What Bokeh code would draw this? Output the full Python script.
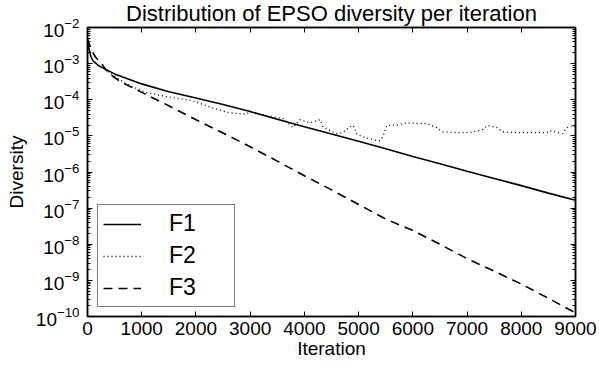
from bokeh.plotting import figure
from bokeh.models import (LinearAxis, LogAxis, FixedTicker, Legend, LegendItem, Range1d,
                          CustomLabelingPolicy, CustomJSTickFormatter)
from bokeh.embed import file_html
from bokeh.resources import INLINE

# ---- data ----
title_text = "Distribution of EPSO diversity per iteration"
x_ticks = [0, 1000, 2000, 3000, 4000, 5000, 6000, 7000, 8000, 9000]
y_ticks = [1e-10, 1e-9, 1e-8, 1e-7, 1e-6, 1e-5, 1e-4, 1e-3, 1e-2]

f1_iter = [0, 30, 60, 100, 200, 300, 500, 700, 1000, 1500, 2000, 2500, 3000,
           3500, 4000, 4500, 5000, 5500, 6000, 6500, 7000, 7500, 8000, 8500, 9000]
f1_div = [4.5e-3, 2.5e-3, 1.6e-3, 1.2e-3, 8.9e-4, 7.4e-4, 5.2e-4, 4.0e-4, 2.75e-4,
          1.66e-4, 1.12e-4, 7.4e-5, 4.7e-5, 2.9e-5, 1.78e-5, 1.12e-5, 7.1e-6,
          4.4e-6, 2.7e-6, 1.7e-6, 1.05e-6, 6.6e-7, 4.2e-7, 2.6e-7, 1.66e-7]

f2_iter = [0, 30, 60, 100, 200, 300, 480, 700, 1070, 1560, 1930, 2300, 2600, 2900,
           3000, 3310, 3610, 3790, 3920, 4100, 4290, 4340, 4470, 4600, 4710, 4840,
           4900, 4970, 5150, 5340, 5390, 5450, 5520, 5710, 5900, 6070, 6260, 6440,
           6550, 6810, 7050, 7290, 7380, 7550, 7660, 7910, 8150, 8470, 8520, 8760,
           8850, 8950, 9000]
f2_div = [4.5e-3, 2.5e-3, 1.6e-3, 1.2e-3, 8.9e-4, 7.2e-4, 4.7e-4, 2.8e-4, 1.6e-4,
          1.15e-4, 9.5e-5, 6.0e-5, 4.4e-5, 4.0e-5, 4.5e-5, 3.6e-5, 3.0e-5, 1.7e-5,
          2.8e-5, 2.3e-5, 2.8e-5, 1.8e-5, 1.4e-5, 1.15e-5, 1.23e-5, 1.8e-5, 1.95e-5,
          1.1e-5, 8.7e-6, 7.4e-6, 7.4e-6, 9.5e-6, 1.95e-5, 2.0e-5, 2.3e-5, 2.2e-5,
          2.2e-5, 1.7e-5, 1.3e-5, 1.23e-5, 1.23e-5, 1.5e-5, 1.95e-5, 1.7e-5, 1.3e-5,
          1.23e-5, 1.23e-5, 1.23e-5, 1.4e-5, 1.15e-5, 1.7e-5, 1.95e-5, 1.8e-5]

f3_iter = [0, 40, 100, 150, 260, 390, 600, 1000, 1500, 2000, 2500, 3000, 3500,
           4000, 4500, 5000, 5500, 6000, 6500, 7000, 7500, 8000, 8500, 9000]
f3_div = [5.0e-3, 3.2e-3, 2.0e-3, 1.5e-3, 1.0e-3, 5.4e-4, 3.2e-4, 1.6e-4, 6.8e-5,
          2.8e-5, 1.2e-5, 5.0e-6, 2.0e-6, 7.9e-7, 3.2e-7, 1.26e-7, 5.0e-8, 2.4e-8,
          1.0e-8, 4.0e-9, 1.8e-9, 7.9e-10, 3.2e-10, 1.26e-10]

labels = ["F1", "F2", "F3"]

FONT = "Liberation Sans"
X0, X1 = x_ticks[0], x_ticks[-1]

y_minor = [k * t for t in y_ticks[:-1] for k in range(2, 10)]

p = figure(width=599, height=366, y_axis_type="log",
           x_range=Range1d(X0, X1), y_range=Range1d(y_ticks[0], y_ticks[-1]),
           output_backend="svg", toolbar_location=None, title=title_text)
p.min_border_left = 87
p.min_border_right = 24
p.min_border_top = 27
p.min_border_bottom = 50

p.title.text_font = FONT
p.title.text_font_size = "22px"
p.title.text_font_style = "normal"
p.title.text_color = "black"
p.title.align = "center"
p.title.vertical_align = "top"
p.title.offset = 0
p.title.standoff = 0

p.xgrid.visible = False
p.ygrid.visible = False
p.outline_line_color = "black"
p.outline_line_width = 1.5

no_labels = CustomLabelingPolicy(code="return new Set()")
blank = CustomJSTickFormatter(code="return ''")

def style_axis(ax, show_labels):
    ax.axis_line_width = 1.5
    ax.axis_line_color = "black"
    ax.major_tick_in = 5
    ax.major_tick_out = 0
    ax.minor_tick_in = 3
    ax.minor_tick_out = 0
    ax.major_tick_line_color = "black"
    ax.minor_tick_line_color = "black"
    ax.major_tick_line_width = 1
    if show_labels:
        ax.major_label_text_font = FONT
        ax.major_label_text_font_size = "19px"
        ax.major_label_text_color = "black"
        ax.axis_label_text_font = FONT
        ax.axis_label_text_font_size = "19px"
        ax.axis_label_text_font_style = "normal"
        ax.axis_label_text_color = "black"
    else:
        ax.formatter = blank
        ax.major_label_policy = no_labels
        ax.major_label_text_font_size = "1px"
        ax.major_label_standoff = 0

p.xaxis.ticker = FixedTicker(ticks=x_ticks, minor_ticks=[])
p.yaxis.ticker = FixedTicker(ticks=y_ticks, minor_ticks=y_minor)
p.xaxis.axis_label = "Iteration"
p.yaxis.axis_label = "Diversity"
style_axis(p.xaxis[0], True)
style_axis(p.yaxis[0], True)
p.xaxis.major_label_standoff = 5
p.xaxis.axis_label_standoff = 0
p.yaxis.major_label_standoff = 8
p.yaxis.axis_label_standoff = 6

top = LinearAxis(ticker=FixedTicker(ticks=x_ticks, minor_ticks=[]))
style_axis(top, False)
p.add_layout(top, "above")
right = LogAxis(ticker=FixedTicker(ticks=y_ticks, minor_ticks=y_minor))
style_axis(right, False)
p.add_layout(right, "right")

r1 = p.line(f1_iter, f1_div, line_color="black", line_width=1.6)
r2 = p.line(f2_iter, f2_div, line_color="black", line_width=1.3, line_dash="1 3")
r3 = p.line(f3_iter, f3_div, line_color="black", line_width=1.6, line_dash="9 6")

legend = Legend(items=[LegendItem(label=labels[0], renderers=[r1]),
                       LegendItem(label=labels[1], renderers=[r2]),
                       LegendItem(label=labels[2], renderers=[r3])],
                location=(10, 9))
legend.label_text_font = FONT
legend.label_text_font_size = "23px"
legend.label_text_color = "black"
legend.padding = 5
legend.margin = 0
legend.spacing = 5
legend.glyph_width = 38
legend.glyph_height = 20
legend.label_height = 20
legend.label_width = 60
legend.label_standoff = 28
legend.border_line_color = "black"
legend.border_line_width = 1.5
legend.background_fill_alpha = 1.0
p.add_layout(legend, "center")

open("out.html", "w").write(file_html(p, INLINE))
